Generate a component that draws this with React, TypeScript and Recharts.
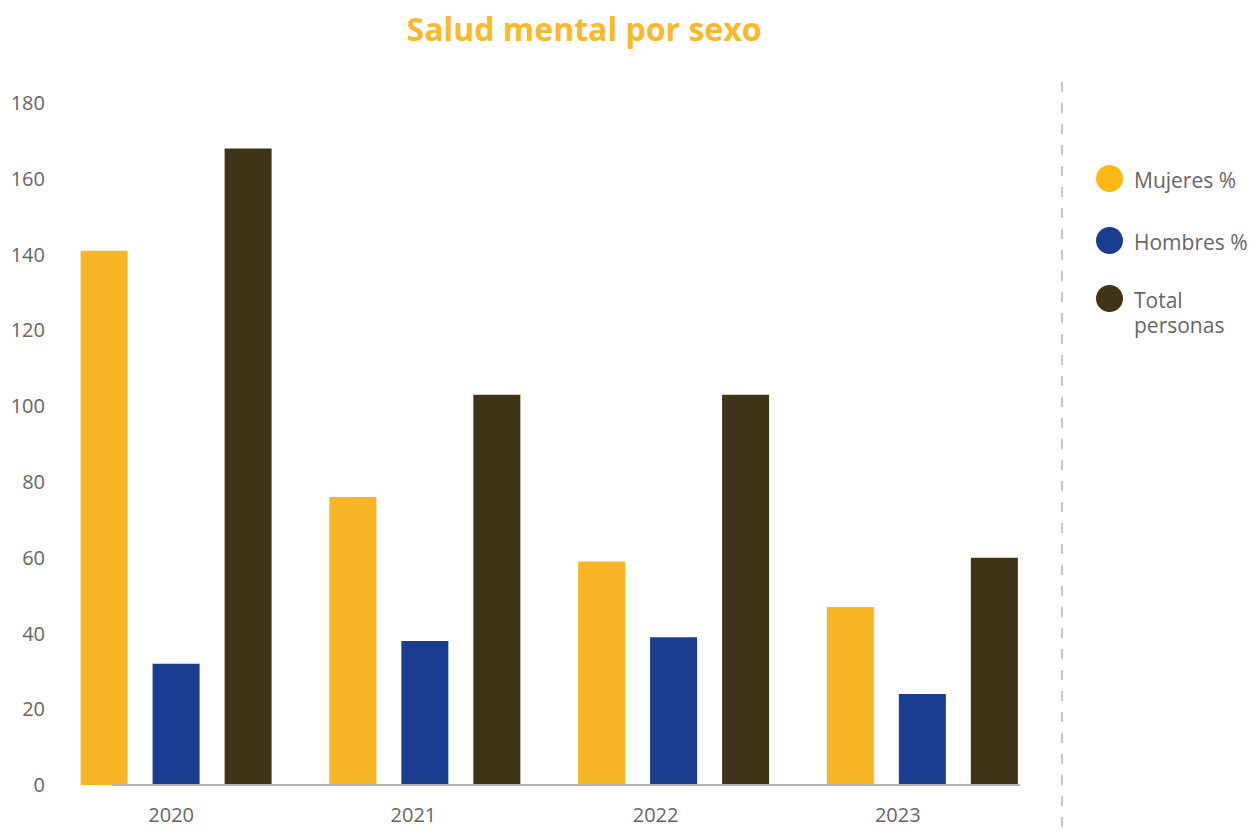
import React from 'react';
import { BarChart, Bar, XAxis, YAxis } from 'recharts';

const years = ['2020', '2021', '2022', '2023'];
const mujeres = [141, 76, 59, 47];
const hombres = [32, 38, 39, 24];
const totalPersonas = [168, 103, 103, 60];
const yTicks = [0, 20, 40, 60, 80, 100, 120, 140, 160, 180];

const seriesInfo = [
  { key: 'mujeres', name: 'Mujeres %', color: '#F8B627', legendColor: '#FDB913', rowHeight: 62 },
  { key: 'hombres', name: 'Hombres %', color: '#1B3D8F', legendColor: '#1B3D8F', rowHeight: 58 },
  { key: 'total', name: 'Total personas', color: '#403418', legendColor: '#403418', rowHeight: 60 },
];

const data = years.map((year, i) => ({
  year,
  mujeres: mujeres[i],
  hombres: hombres[i],
  total: totalPersonas[i],
}));

const FONT = '"Open Sans", "Noto Sans", sans-serif';

// legend lives outside the chart so it doesn't eat the plot width
const ChartLegend = () => (
  <div style={{ position: 'absolute', top: 165, left: 1096, fontFamily: FONT, fontSize: 21, color: '#666' }}>
    {seriesInfo.map(s => (
      <div key={s.key} style={{ display: 'flex', alignItems: 'flex-start', height: s.rowHeight }}>
        <span
          style={{
            width: 27,
            height: 27,
            borderRadius: '50%',
            background: s.legendColor,
            display: 'inline-block',
            marginRight: 11,
            flexShrink: 0,
          }}
        />
        <span style={{ width: 124, lineHeight: '25px', marginTop: 3 }}>{s.name}</span>
      </div>
    ))}
  </div>
);

export default function App() {
  return (
    <div style={{ position: 'absolute', top: 0, left: 0, width: 1258, height: 834, background: '#fff' }}>
      <div
        style={{
          position: 'absolute',
          top: 7,
          left: 0,
          width: 1168,
          textAlign: 'center',
          fontFamily: FONT,
          fontWeight: 700,
          fontSize: 32,
          color: '#FBB829',
        }}
      >
        Salud mental por sexo
      </div>
      <div
        style={{
          position: 'absolute',
          left: 1061,
          top: 82,
          width: 2,
          height: 752,
          backgroundImage: 'linear-gradient(to bottom, #c8c8c8 10px, transparent 10px)',
          backgroundSize: '2px 21px',
        }}
      />
      <ChartLegend />
      <BarChart
        width={1258}
        height={834}
        data={data}
        margin={{ top: 103, right: 238, bottom: 0, left: 0 }}
        barSize={47}
        barGap={25}
      >
        {/* bars sit on this one; the labels axis below is spaced a bit tighter like the original */}
        <XAxis xAxisId="bars" dataKey="year" hide height={0} padding={{ left: -60.4, right: -26.6 }} />
        <XAxis
          xAxisId="labels"
          dataKey="year"
          height={49}
          padding={{ left: -61.9, right: 1.1 }}
          axisLine={{ stroke: '#b3b3b3', strokeWidth: 2 }}
          tickLine={false}
          tickMargin={17}
          tick={{ fill: '#666', fontSize: 20, fontFamily: FONT }}
        />
        <YAxis
          width={112}
          domain={[0, 180]}
          ticks={yTicks}
          axisLine={false}
          tickLine={false}
          tickMargin={61}
          tick={{ fill: '#666', fontSize: 20, fontFamily: FONT }}
        />
        {seriesInfo.map(s => (
          <Bar
            key={s.key}
            xAxisId="bars"
            dataKey={s.key}
            name={s.name}
            fill={s.color}
            isAnimationActive={false}
          />
        ))}
      </BarChart>
    </div>
  );
}
